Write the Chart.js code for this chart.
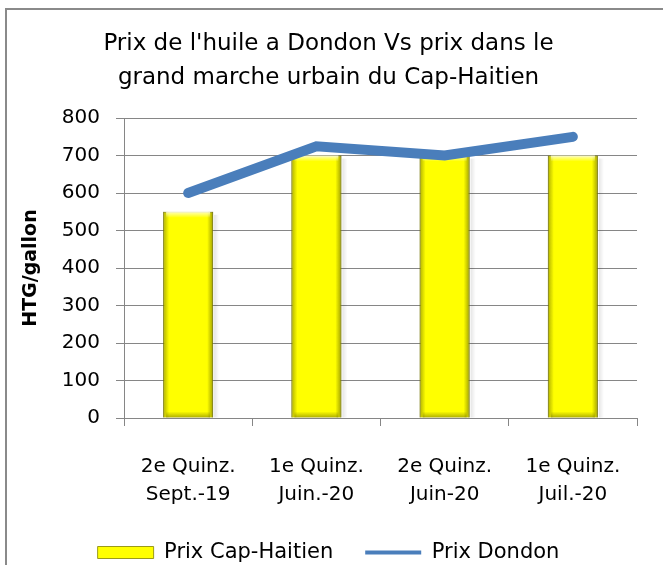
<!DOCTYPE html>
<html>
<head>
<meta charset="utf-8">
<script src="https://cdn.jsdelivr.net/npm/chart.js@4.4.1/dist/chart.umd.min.js"></script>
<style>
  html, body { margin: 0; padding: 0; background: #fff; overflow: hidden; }
  #cadre { position: absolute; left: 5px; top: 8px; width: 700px; height: 620px; border: 2px solid #8a8a8a; }
  #zone { position: absolute; left: 0; top: 0; width: 663px; height: 565px; }
</style>
</head>
<body>
<div id="cadre"></div>
<div id="zone"><canvas id="graphique"></canvas></div>
<script>
// Données
const periodes = [
    ['2e Quinz.', 'Sept.-19'],
    ['1e Quinz.', 'Juin.-20'],
    ['2e Quinz.', 'Juin-20'],
    ['1e Quinz.', 'Juil.-20']
];
const prixCapHaitien = [550, 700, 700, 700];
const prixDondon = [600, 725, 700, 750];
const ticksY = [0, 100, 200, 300, 400, 500, 600, 700, 800];

const police = "'DejaVu Sans', sans-serif";

// effet de biseau sur les barres (style Excel)
const biseau = {
    id: 'biseau',
    afterDatasetDraw(chart, args) {
        if (args.meta.type !== 'bar') return;
        const ctx = chart.ctx;
        ctx.save();
        args.meta.data.forEach(bar => {
            const g = bar.x - bar.width / 2, d = bar.x + bar.width / 2;
            const h = bar.y, b = bar.base;
            // ombre légère à droite
            let grad = ctx.createLinearGradient(d, 0, d + 6, 0);
            grad.addColorStop(0, 'rgba(0,0,0,0.12)');
            grad.addColorStop(1, 'rgba(0,0,0,0)');
            ctx.fillStyle = grad;
            ctx.fillRect(d + 1, h + 3, 6, b - h - 3);
            grad = ctx.createLinearGradient(g, 0, g + 6, 0);
            grad.addColorStop(0, 'rgba(110,110,0,0.55)');
            grad.addColorStop(1, 'rgba(110,110,0,0)');
            ctx.fillStyle = grad;
            ctx.fillRect(g, h, 6, b - h);
            grad = ctx.createLinearGradient(d, 0, d - 6, 0);
            grad.addColorStop(0, 'rgba(110,110,0,0.65)');
            grad.addColorStop(1, 'rgba(110,110,0,0)');
            ctx.fillStyle = grad;
            ctx.fillRect(d - 6, h, 6, b - h);
            grad = ctx.createLinearGradient(0, b, 0, b - 6);
            grad.addColorStop(0, 'rgba(110,110,0,0.55)');
            grad.addColorStop(1, 'rgba(110,110,0,0)');
            ctx.fillStyle = grad;
            ctx.fillRect(g + 3, b - 6, bar.width - 6, 6);
            grad = ctx.createLinearGradient(0, h, 0, h + 6);
            grad.addColorStop(0, 'rgba(255,255,210,0.9)');
            grad.addColorStop(1, 'rgba(255,255,210,0)');
            ctx.fillStyle = grad;
            ctx.fillRect(g + 3, h, bar.width - 6, 6);
        });
        ctx.restore();
    }
};

new Chart(document.getElementById('graphique'), {
    data: {
        labels: periodes,
        datasets: [
            {
                type: 'line',
                label: 'Prix Dondon',
                data: prixDondon,
                borderColor: '#4a7ebb',
                backgroundColor: '#4a7ebb',
                borderWidth: 10,
                borderCapStyle: 'round',
                borderJoinStyle: 'miter',
                pointRadius: 0,
                pointStyle: 'line',
                tension: 0
            },
            {
                type: 'bar',
                label: 'Prix Cap-Haitien',
                data: prixCapHaitien,
                backgroundColor: '#ffff00',
                borderColor: 'rgba(130,130,0,0.8)',
                borderWidth: 1,
                pointStyle: 'rect',
                categoryPercentage: 1,
                barPercentage: 0.39
            }
        ]
    },
    options: {
        responsive: true,
        maintainAspectRatio: false,
        animation: false,
        layout: { padding: { left: 20, right: 26, top: 27, bottom: 0 } },
        plugins: {
            title: {
                display: true,
                text: ["Prix de l'huile a Dondon Vs prix dans le", 'grand marche urbain du Cap-Haitien'],
                color: '#000',
                font: { family: police, size: 23, weight: 'normal', lineHeight: 1.48 },
                padding: { top: 0, bottom: 23 }
            },
            legend: {
                position: 'bottom',
                maxHeight: 55,
                labels: {
                    color: '#000',
                    font: { family: police, size: 21 },
                    usePointStyle: true,
                    pointStyleWidth: 56,
                    boxHeight: 12,
                    padding: 32,
                    sort: (a, b) => b.datasetIndex - a.datasetIndex,
                    generateLabels(chart) {
                        const items = Chart.defaults.plugins.legend.labels.generateLabels(chart);
                        items.forEach(it => {
                            if (it.pointStyle === 'line') it.lineWidth = 4;
                            else { it.lineWidth = 1; it.strokeStyle = 'rgba(130,130,0,0.8)'; }
                        });
                        return items;
                    }
                }
            },
            tooltip: { enabled: false }
        },
        scales: {
            x: {
                offset: true,
                afterFit(scale) { scale.height = 92; },
                grid: { display: true, offset: true, drawOnChartArea: false, drawTicks: true, tickLength: 8, color: '#868686' },
                border: { color: '#868686' },
                ticks: { color: '#000', font: { family: police, size: 20, lineHeight: 1.4 }, padding: 27, maxRotation: 0 }
            },
            y: {
                min: 0,
                max: 800,
                afterBuildTicks(scale) { scale.ticks = ticksY.map(v => ({ value: v })); },
                afterFit(scale) { scale.width = 104; },
                grid: { color: '#868686', tickLength: 8 },
                border: { color: '#868686' },
                ticks: { color: '#000', font: { family: police, size: 20 }, padding: 16 },
                title: {
                    display: true,
                    text: 'HTG/gallon',
                    color: '#000',
                    font: { family: police, size: 19, weight: 'bold' },
                    padding: 0
                }
            }
        }
    },
    plugins: [biseau]
});
</script>
</body>
</html>
